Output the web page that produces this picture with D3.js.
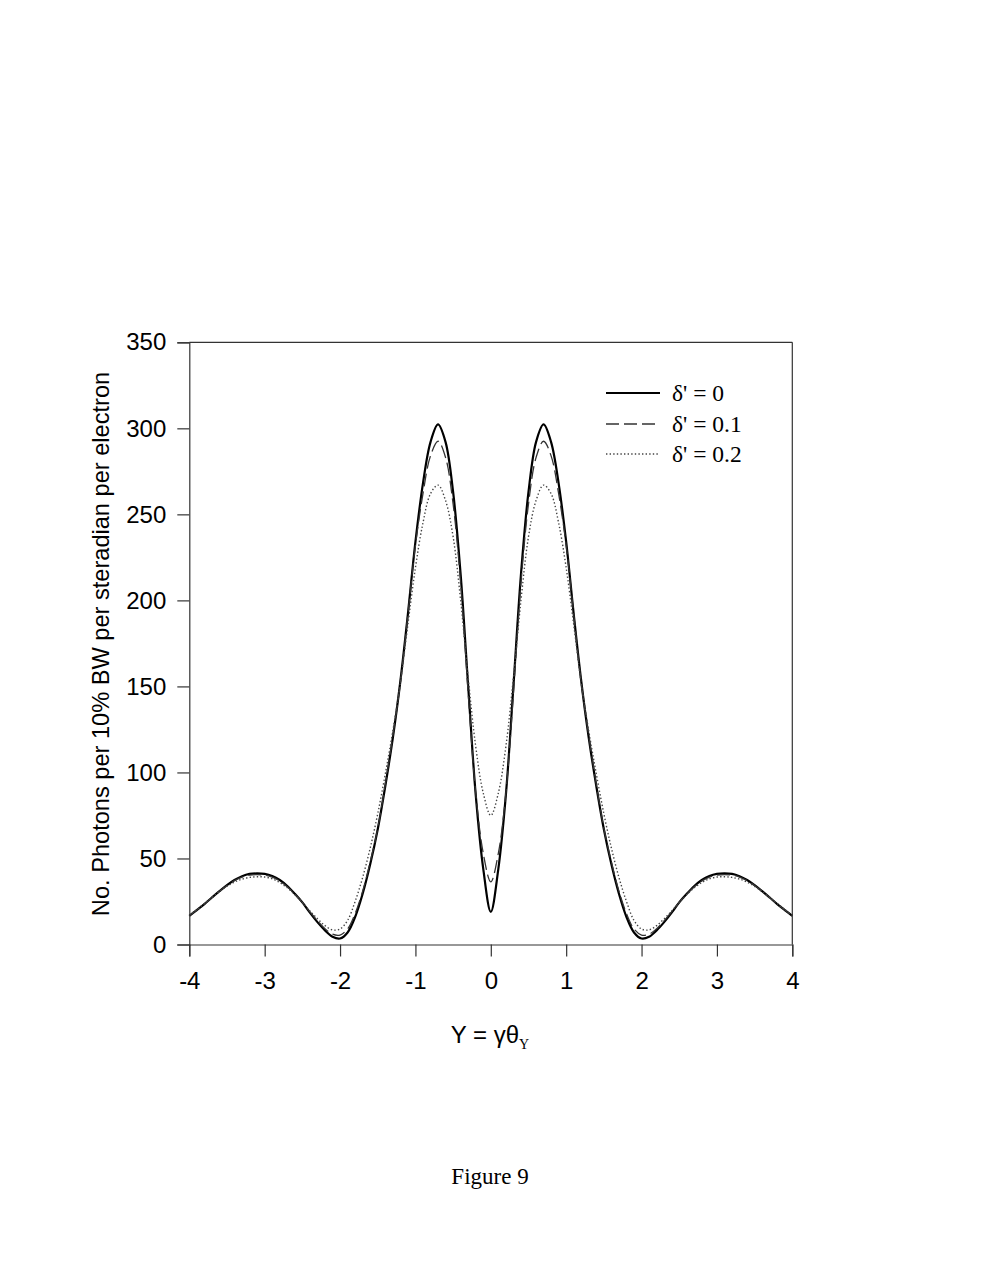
<!DOCTYPE html>
<html><head><meta charset="utf-8">
<script src="https://cdn.jsdelivr.net/npm/d3@7"></script>
<style>body{margin:0;background:#fff}svg{display:block}</style>
</head><body>
<script>
// half-profile values at Y = 0.0, 0.1, ..., 4.0 (curves are symmetric about 0)
const yHalf = d3.range(0, 41).map(i => i / 10);
const delta0 = [19,44,87,150,215,263,292,302.3,292,268,234,192,153,120,92,67,46.6,29.5,16,7,3.5,4.5,8.2,13,18.5,24.5,29.5,34,37.5,39.8,41,41.3,41,39.7,37.5,34.5,31,27.3,23.5,20,16.6];
const delta01 = [36.4,53,88,146,210,256,283,292.5,284,262,232,192,152,121,93,67.5,48,31,18,9,5.5,6,9.2,13.8,19,24.5,29.3,33.5,37,39.2,40.3,40.6,40.3,39.2,37.2,34.3,31,27.3,23.6,20.1,16.8];
const delta02 = [75,88,115,155,200,237,258,267,262,245,219,186,152,124,99,76,56,39,25,14,9,8.5,11,15,19.5,24.5,29,33,36,38.2,39.2,39.4,39,38,36.3,33.8,30.8,27.3,23.8,20.3,17];
const seriesNames = ["δ' = 0", "δ' = 0.1", "δ' = 0.2"];
const xTicks = [-4,-3,-2,-1,0,1,2,3,4];
const yTicks = [0,50,100,150,200,250,300,350];

const W = 982, H = 1285;
const svg = d3.select("body").append("svg").attr("width", W).attr("height", H);
const x = d3.scaleLinear().domain([-4, 4]).range([189.3, 792.3]);
const y = d3.scaleLinear().domain([0, 350]).range([944.5, 342.3]);

function full(vals) {
  const pts = [];
  for (let i = vals.length - 1; i > 0; i--) pts.push([-yHalf[i], vals[i]]);
  for (let i = 0; i < vals.length; i++) pts.push([yHalf[i], vals[i]]);
  return pts;
}
const line = d3.line().x(d => x(d[0])).y(d => y(d[1])).curve(d3.curveCatmullRom.alpha(0.5));

const styles = [
  {stroke: "#000", width: 2.2, dash: null},
  {stroke: "#333", width: 1.3, dash: "13,5"},
  {stroke: "#444", width: 1.4, dash: "1.4,2.2"}
];
[delta0, delta01, delta02].forEach((v, i) => {
  svg.append("path").attr("d", line(full(v))).attr("fill", "none")
    .attr("stroke", styles[i].stroke).attr("stroke-width", styles[i].width)
    .attr("stroke-dasharray", styles[i].dash);
});

const axisColor = "#333";
svg.append("line").attr("x1", x(-4)).attr("x2", x(4)).attr("y1", y(350)).attr("y2", y(350)).attr("stroke", axisColor).attr("stroke-width", 1.2);
svg.append("line").attr("x1", x(4)).attr("x2", x(4)).attr("y1", y(350)).attr("y2", y(0)).attr("stroke", axisColor).attr("stroke-width", 1.2);

const gx = svg.append("g").attr("transform", `translate(0,${y(0)})`)
  .call(d3.axisBottom(x).tickValues(xTicks).tickSize(12).tickPadding(15).tickFormat(d3.format("d")));
const gy = svg.append("g").attr("transform", `translate(${x(-4)},0)`)
  .call(d3.axisLeft(y).tickValues(yTicks).tickSize(12).tickPadding(11));
[gx, gy].forEach(g => {
  g.select(".domain").attr("stroke", axisColor).attr("stroke-width", 1.2);
  g.selectAll(".tick line").attr("stroke", axisColor).attr("stroke-width", 1.2);
  g.selectAll("text").attr("font-family", "Liberation Sans, Arial, sans-serif").attr("font-size", 24).attr("fill", "#000");
});
gx.selectAll("text").text(d => d < 0 ? "-" + Math.abs(d) : d);

svg.append("text").attr("transform", "translate(109,644) rotate(-90)")
  .attr("text-anchor", "middle").attr("font-family", "Liberation Sans, Arial, sans-serif")
  .attr("font-size", 23.6).text("No. Photons per 10% BW per steradian per electron");

const xl = svg.append("text").attr("x", 490).attr("y", 1043).attr("text-anchor", "middle")
  .attr("font-family", "Liberation Sans, Arial, sans-serif").attr("font-size", 24);
xl.append("tspan").text("Y = γθ");
xl.append("tspan").attr("font-family", "Liberation Serif, Times New Roman, serif").attr("font-size", 14).attr("dy", 6).text("Y");

const legY = [393, 424, 454];
seriesNames.forEach((name, i) => {
  svg.append("line").attr("x1", 606).attr("x2", 660).attr("y1", legY[i]).attr("y2", legY[i])
    .attr("stroke", styles[i].stroke).attr("stroke-width", styles[i].width).attr("stroke-dasharray", styles[i].dash);
  svg.append("text").attr("x", 672).attr("y", legY[i] + 8).attr("font-family", "Liberation Serif, Times New Roman, serif")
    .attr("font-size", 23.5).text(name);
});

svg.append("text").attr("x", 490).attr("y", 1184).attr("text-anchor", "middle")
  .attr("font-family", "Liberation Serif, Times New Roman, serif").attr("font-size", 23).text("Figure 9");
</script>
</body></html>
